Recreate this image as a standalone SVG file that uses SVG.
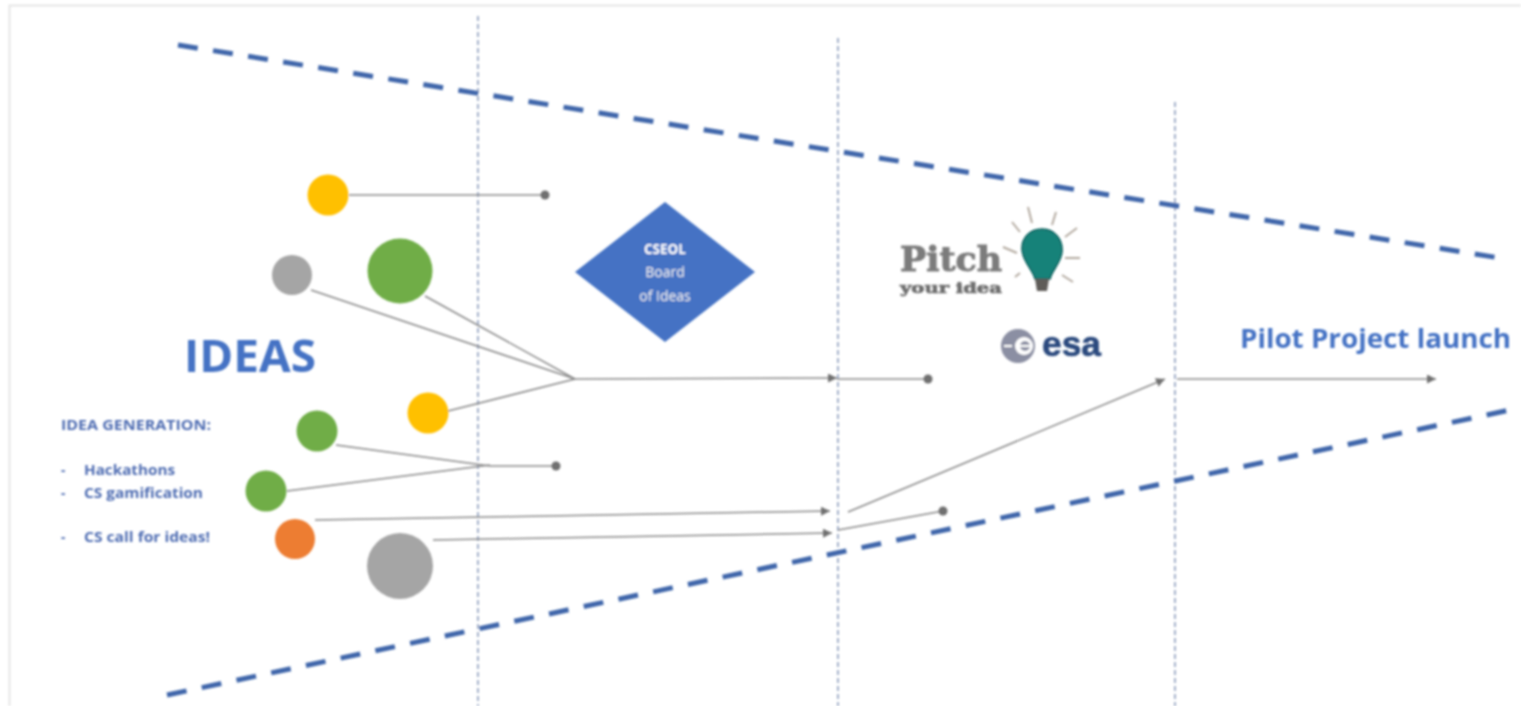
<svg xmlns="http://www.w3.org/2000/svg" width="1521" height="706" viewBox="0 0 1521 706">
<style>
.sans{font-family:"Open Sans","Liberation Sans",sans-serif}
.blue{fill:#4472c4}
.small{fill:#4f6db2;font-size:13.5px;font-weight:700;font-family:"Open Sans","Liberation Sans",sans-serif}
.guide{stroke:#93a3c0;stroke-width:1.7;stroke-dasharray:5 3;fill:none}
.bound{stroke:#3f66aa;stroke-width:5;stroke-dasharray:20 15.500;fill:none}
.conn{stroke:#8a8a8a;stroke-width:1.5;fill:none}
.dot{fill:#707070}
.ray{stroke:#b3aaa0;stroke-width:2;fill:none}
</style>
<defs>
<marker id="arrow" markerUnits="userSpaceOnUse" markerWidth="10" markerHeight="9" refX="9" refY="4.500" orient="auto"><path d="M0 0L9 4.500L0 9Z" fill="#707070"/></marker>
<filter id="soft" x="-2%" y="-2%" width="104%" height="104%"><feGaussianBlur stdDeviation="0.9"/></filter>
</defs>
<rect width="1521" height="706" fill="#fff"/>
<g filter="url(#soft)">
<path d="M9.500 706V5.500H1521" fill="none" stroke="#e6e6e6" stroke-width="2"/>
<g id="guides">
<path class="guide" d="M478 16V706"/>
<path class="guide" d="M838 38V706"/>
<path class="guide" d="M1175 102V706"/>
</g>
<g id="boundaries">
<path class="bound" d="M178 45L1500 258"/>
<path class="bound" d="M167 695L1510 410"/>
</g>
<g id="connectors">
<path class="conn" d="M349 195H545"/><circle class="dot" cx="545" cy="195" r="4.500"/>
<path class="conn" d="M311 290L575 379"/>
<path class="conn" d="M425 296L575 379"/>
<path class="conn" d="M448 411L575 379"/>
<path class="conn" d="M575 379L837 378" marker-end="url(#arrow)"/>
<path class="conn" d="M837 379H928"/><circle class="dot" cx="928" cy="379" r="4.500"/>
<path class="conn" d="M336 445L490 466"/>
<path class="conn" d="M287 491L490 465"/>
<path class="conn" d="M490 466H556"/><circle class="dot" cx="556" cy="466" r="4.500"/>
<path class="conn" d="M315 520L830 511" marker-end="url(#arrow)"/>
<path class="conn" d="M433 540L832 533" marker-end="url(#arrow)"/>
<path class="conn" d="M838 530L943 511"/><circle class="dot" cx="943" cy="511" r="4.500"/>
<path class="conn" d="M848 512L1165 379" marker-end="url(#arrow)"/>
<path class="conn" d="M1177 379H1436" marker-end="url(#arrow)"/>
</g>
<g id="node-yellow-1"><circle cx="328" cy="195" r="20.500" fill="#ffc000"/></g>
<g id="node-gray-1"><circle cx="292" cy="275" r="20" fill="#a5a5a5"/></g>
<g id="node-green-1"><circle cx="400" cy="271" r="32.500" fill="#70ad47"/></g>
<g id="node-yellow-2"><circle cx="428" cy="413" r="20.500" fill="#ffc000"/></g>
<g id="node-green-2"><circle cx="317" cy="431" r="20.500" fill="#70ad47"/></g>
<g id="node-green-3"><circle cx="266" cy="491" r="20.500" fill="#70ad47"/></g>
<g id="node-orange"><circle cx="295" cy="539" r="20" fill="#ed7d31"/></g>
<g id="node-gray-2"><circle cx="400" cy="566" r="33" fill="#a5a5a5"/></g>
<g id="node-board">
<path d="M665 202L755 272L665 342L575 272Z" fill="#4472c4"/>
<text class="sans" x="665" y="254" text-anchor="middle" font-size="13.500" font-weight="700" fill="#fff">CSEOL</text>
<text class="sans" x="665" y="277" text-anchor="middle" font-size="14" fill="#f2f2f2">Board</text>
<text class="sans" x="665" y="301" text-anchor="middle" font-size="14" fill="#f2f2f2">of Ideas</text>
</g>
<g id="node-ideas"><text class="sans blue" x="184" y="372" font-size="45" font-weight="700" textLength="132" lengthAdjust="spacingAndGlyphs">IDEAS</text></g>
<g id="node-generation">
<text class="small" x="61" y="430" textLength="150" lengthAdjust="spacingAndGlyphs">IDEA GENERATION:</text>
<text class="small" x="61" y="475" fill="#a9b6cc">-</text><text class="small" x="84" y="475" textLength="91" lengthAdjust="spacingAndGlyphs">Hackathons</text>
<text class="small" x="61" y="498" fill="#a9b6cc">-</text><text class="small" x="84" y="498" textLength="119" lengthAdjust="spacingAndGlyphs">CS gamification</text>
<text class="small" x="61" y="542" fill="#a9b6cc">-</text><text class="small" x="84" y="542" textLength="126" lengthAdjust="spacingAndGlyphs">CS call for ideas!</text>
</g>
<g id="node-pitch">
<text x="900" y="271" font-family="'DejaVu Serif',serif" font-weight="700" font-size="33" fill="#7c7c7c" stroke="#7c7c7c" stroke-width="1" textLength="102" lengthAdjust="spacingAndGlyphs">Pitch</text>
<text x="900" y="293" font-family="'DejaVu Serif',serif" font-weight="700" font-size="15" fill="#6e6e6e" stroke="#6e6e6e" stroke-width="0.700" textLength="102" lengthAdjust="spacingAndGlyphs">your idea</text>
<path d="M1042 229C1055 229 1063 240 1062 252C1061 263 1052 270 1050 279H1035C1033 270 1023 262 1022 250C1021 238 1030 229 1042 229Z" fill="#128279" stroke="#0f5f5c" stroke-width="1.500"/>
<path d="M1035 279H1049L1047 291H1037Z" fill="#5f5c58"/>
<path class="ray" d="M1028 207L1032 223M1056 212L1052 225M1012 222L1020 232M1077 228L1065 237M1003 247L1017 253M1080 258H1065M1062 275L1073 282M1020 273L1015 277"/>
</g>
<g id="node-esa">
<circle cx="1018" cy="346" r="17" fill="#8b8fa3"/>
<circle cx="1024" cy="346" r="9" fill="#fff"/>
<circle cx="1025" cy="346" r="5" fill="#8b8fa3"/>
<path d="M1004 346H1012M1020 346H1032" stroke="#fff" stroke-width="2"/>
<text x="1042" y="356" font-family="'Liberation Sans',sans-serif" font-weight="700" font-size="35" fill="#2b4a7e" stroke="#2b4a7e" stroke-width="0.600" textLength="59" lengthAdjust="spacingAndGlyphs">esa</text>
</g>
<g id="node-pilot"><text class="sans blue" x="1240" y="348" font-size="27" font-weight="700" textLength="271" lengthAdjust="spacingAndGlyphs">Pilot Project launch</text></g>
</g>
</svg>
